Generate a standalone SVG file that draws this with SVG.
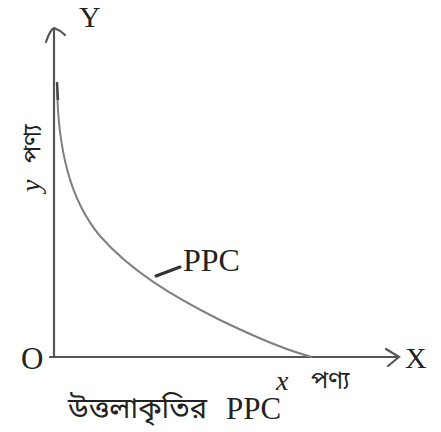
<svg xmlns="http://www.w3.org/2000/svg" width="441" height="432" viewBox="0 0 441 432">
<style>
.ax{stroke:#555;stroke-width:2.2;fill:none;stroke-linecap:round}
.cv{stroke:#808080;stroke-width:2;fill:none}
.t{fill:#222;font-family:'Times New Roman','Liberation Serif',Tinos,'Noto Serif','DejaVu Serif',serif}
.b{fill:#222;font-family:'Noto Sans Bengali','Noto Serif Bengali','Noto Sans',sans-serif}
</style>
<rect width="441" height="432" fill="#fff"/>
<g id="connectors">
<path class="ax" d="M54,357 L54,30"/>
<path class="ax" d="M46,42 Q50,30 54,28 Q60,30 65,35"/>
<path class="ax" d="M50,357 L398,357"/>
<path class="ax" d="M386,349 L399,357 L388,366"/>
<path class="cv" d="M57,85 C58,150 70,200 100,236 C130,270 170,295 220,320 C255,337 285,350 312,357"/>
<path stroke="#444" stroke-width="2.4" d="M57,82 L58,100"/>
<path stroke="#333" stroke-width="3" d="M156,276 L180,267" stroke-linecap="round"/>
</g>
<g id="labels">
<text class="t" x="79" y="27" font-size="30">Y</text>
<text class="t" x="21" y="369" font-size="31">O</text>
<text class="t" x="405" y="368" font-size="30">X</text>
<text class="t" x="183" y="271" font-size="32">PPC</text>
<g transform="translate(40,192) rotate(-90)">
<text class="t" x="0" y="0" font-size="28" font-style="italic">y</text>
<text class="b" x="29" y="0" font-size="24">পণ্য</text>
</g>
<text class="t" x="276" y="390" font-size="28" font-style="italic">x</text>
<text class="b" x="311" y="388" font-size="24">পণ্য</text>
<text class="b" x="68" y="418" font-size="29">উত্তলাকৃতির</text>
<text class="t" x="226" y="419" font-size="31">PPC</text>
</g>
</svg>
